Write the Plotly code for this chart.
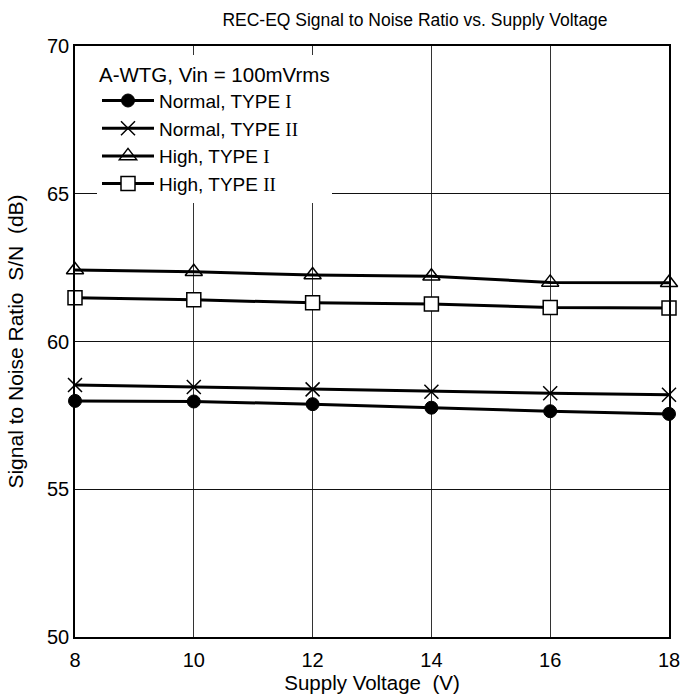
import plotly.graph_objects as go

voltage = [8, 10, 12, 14, 16, 18]
normal_type1 = [57.99, 57.97, 57.88, 57.76, 57.64, 57.55]
normal_type2 = [58.53, 58.46, 58.38, 58.30, 58.25, 58.20]
high_type1 = [62.42, 62.36, 62.25, 62.21, 62.00, 61.99]
high_type2 = [61.48, 61.41, 61.31, 61.27, 61.15, 61.13]

x_ticks = [8, 10, 12, 14, 16, 18]
y_ticks = [50, 55, 60, 65, 70]

FONT = "Liberation Sans, Arial, sans-serif"
SERIF = "Liberation Serif, Times New Roman, serif"

def lbl(prefix, roman):
    return f"{prefix}, TYPE <span style='font-family:{SERIF}'>{roman}</span>"

series = [
    (lbl("Normal", "I"), normal_type1, dict(symbol="circle", size=13, color="black", line=dict(color="black", width=1))),
    (lbl("Normal", "II"), normal_type2, dict(symbol="x-thin-open", size=14, color="black", line=dict(color="black", width=1.5))),
    (lbl("High", "I"), high_type1, dict(symbol="triangle-up-open", size=15, color="black", line=dict(color="black", width=1.5))),
    (lbl("High", "II"), high_type2, dict(symbol="square", size=14, color="white", line=dict(color="black", width=1.5))),
]

fig = go.Figure()
for name, vals, mk in series:
    fig.add_trace(go.Scatter(x=voltage, y=vals, name=name, mode="lines+markers",
                             line=dict(color="black", width=3), marker=mk,
                             cliponaxis=False))

fig.update_layout(
    width=683, height=699,
    margin=dict(l=75, r=14, t=46, b=62),
    paper_bgcolor="white", plot_bgcolor="white",
    font=dict(family=FONT, color="black", size=19),
    title=dict(text="REC-EQ Signal to Noise Ratio vs. Supply Voltage",
               x=415 / 683, xanchor="center", y=1 - 20 / 699, yanchor="middle",
               font=dict(size=17.5, family=FONT)),
    showlegend=True,
    legend=dict(x=(97 - 75) / 594, y=1 - (55 - 46) / 591, xanchor="left", yanchor="top",
                bgcolor="white", borderwidth=0, font=dict(size=19, family=FONT),
                title=dict(text="A-WTG, Vin = 100mVrms", font=dict(size=20.5, family=FONT)),
                itemwidth=52, tracegroupgap=0),
    xaxis=dict(range=[8, 18], tickvals=x_ticks, ticktext=[str(t) for t in x_ticks],
               showgrid=True, gridcolor="#333", gridwidth=1,
               showline=True, linecolor="black", linewidth=1.5, mirror=True,
               zeroline=False, ticks="", tickfont=dict(size=20), ticklabelstandoff=4,
               automargin=False,
               title=dict(text="Supply Voltage  (V)", font=dict(size=20.5), standoff=6)),
    yaxis=dict(range=[50, 70], tickvals=y_ticks, ticktext=[str(t) for t in y_ticks],
               showgrid=True, gridcolor="#111", gridwidth=1,
               showline=True, linecolor="black", linewidth=1.5, mirror=True,
               zeroline=False, ticks="", tickfont=dict(size=20), automargin=False,
               title=dict(text="Signal to Noise Ratio  S/N  (dB)", font=dict(size=21), standoff=18)),
)

fig.write_html("out.html")
